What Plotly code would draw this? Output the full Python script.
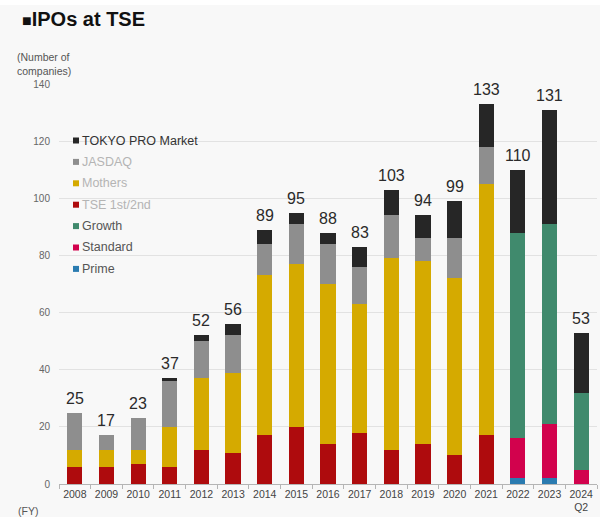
import plotly.graph_objects as go

# ---- data ----
years = ["2008", "2009", "2010", "2011", "2012", "2013", "2014", "2015", "2016",
         "2017", "2018", "2019", "2020", "2021", "2022", "2023", "2024<br>Q2"]
prime = [None]*14 + [2, 2, None]
standard = [None]*14 + [14, 19, 5]
growth = [None]*14 + [72, 70, 27]
tse_1st_2nd = [6, 6, 7, 6, 12, 11, 17, 20, 14, 18, 12, 14, 10, 17, None, None, None]
mothers = [6, 6, 5, 14, 25, 28, 56, 57, 56, 45, 67, 64, 62, 88, None, None, None]
jasdaq = [13, 5, 11, 16, 13, 13, 11, 14, 14, 13, 15, 8, 14, 13, None, None, None]
tokyo_pro = [None, None, None, 1, 2, 4, 5, 4, 4, 7, 9, 8, 13, 15, 22, 40, 21]

# ---- styles ----
FONT = "Liberation Sans, Arial, sans-serif"
C_PRO = "#262626"
C_JAS = "#8e8e8e"
C_MOT = "#d5aa00"
C_TSE = "#ae0b0d"
C_GRO = "#408a6d"
C_STD = "#d2024d"
C_PRI = "#2a7bb0"

series = [
    ("Prime", prime, C_PRI),
    ("Standard", standard, C_STD),
    ("Growth", growth, C_GRO),
    ("TSE 1st/2nd", tse_1st_2nd, C_TSE),
    ("Mothers", mothers, C_MOT),
    ("JASDAQ", jasdaq, C_JAS),
    ("TOKYO PRO Market", tokyo_pro, C_PRO),
]

fig = go.Figure()
for name, vals, col in series:
    fig.add_trace(go.Bar(x=years, y=vals, name=name, marker_color=col,
                         marker_line_width=0, showlegend=False))

totals = [sum(v for v in col if v is not None)
          for col in zip(prime, standard, growth, tse_1st_2nd, mothers, jasdaq, tokyo_pro)]

L, R, T, B, W, H = 59, 3, 84, 33, 600, 517
PW, PH = W - L - R, H - T - B


def px(x):
    return (x - L) / PW


def py(y):
    return (T + PH - y) / PH


annotations = []
for i, tot in enumerate(totals):
    # category index on the category axis
    annotations.append(dict(x=i, y=tot, xref="x", yref="y", text=str(tot), showarrow=False,
                            yanchor="bottom", yshift=4,
                            font=dict(family=FONT, size=16, color="#2a2a2a")))

# title
annotations.append(dict(x=px(20), y=py(19), xref="paper", yref="paper", xanchor="left",
                        yanchor="middle", showarrow=False,
                        text="<span style='font-size:16px'>■</span><b>IPOs at TSE</b>",
                        font=dict(family=FONT, size=20, color="#111111")))
# y axis title
annotations.append(dict(x=px(15), y=py(64), xref="paper", yref="paper", xanchor="left",
                        yanchor="middle", showarrow=False, align="left",
                        text="(Number of<br>companies)",
                        font=dict(family=FONT, size=10.5, color="#555555")))
# FY
annotations.append(dict(x=px(16), y=py(503), xref="paper", yref="paper", xanchor="left",
                        yanchor="top", showarrow=False, text="(FY)",
                        font=dict(family=FONT, size=10.5, color="#555555")))

# custom legend
legend_items = [
    ("TOKYO PRO Market", C_PRO, "#333333"),
    ("JASDAQ", C_JAS, "#b4b4b4"),
    ("Mothers", C_MOT, "#b4b4b4"),
    ("TSE 1st/2nd", C_TSE, "#b4b4b4"),
    ("Growth", C_GRO, "#555555"),
    ("Standard", C_STD, "#555555"),
    ("Prime", C_PRI, "#555555"),
]
shapes = []
for i, (name, mcol, tcol) in enumerate(legend_items):
    yc = 140.5 + i * 21.4
    shapes.append(dict(type="rect", xref="paper", yref="paper",
                       x0=px(73), x1=px(79), y0=py(yc + 3), y1=py(yc - 3),
                       fillcolor=mcol, line_width=0))
    annotations.append(dict(x=px(80), y=py(yc), xref="paper", yref="paper",
                            xanchor="left", yanchor="middle", showarrow=False,
                            text=name, font=dict(family=FONT, size=12.5, color=tcol)))

# white strip at the very top
shapes.append(dict(type="rect", xref="paper", yref="paper", x0=px(0), x1=px(W),
                   y0=py(5), y1=py(0), fillcolor="white", line_width=0, layer="below"))

fig.update_layout(
    width=W, height=H,
    margin=dict(l=L, r=R, t=T, b=B, pad=0),
    barmode="stack", bargap=0.52,
    paper_bgcolor="#f8f8f8", plot_bgcolor="#f8f8f8",
    font=dict(family=FONT),
    showlegend=False,
    annotations=annotations,
    shapes=shapes,
    xaxis=dict(type="category", range=[-0.5, len(years) - 0.5], autorange=False,
               showline=True, linecolor="#b5b5b5", linewidth=1,
               ticks="outside", tickson="boundaries", ticklen=4, tickcolor="#b5b5b5",
               tickangle=0,
               tickfont=dict(family=FONT, size=10.5, color="#444444"), showgrid=False),
    yaxis=dict(range=[0, 140], autorange=False, dtick=20, showgrid=True,
               gridcolor="#e2e2e2", gridwidth=1,
               zeroline=False, showline=False, ticks="", ticklabelstandoff=8,
               tickfont=dict(family=FONT, size=10, color="#666666")),
)

fig.write_html("out.html")
